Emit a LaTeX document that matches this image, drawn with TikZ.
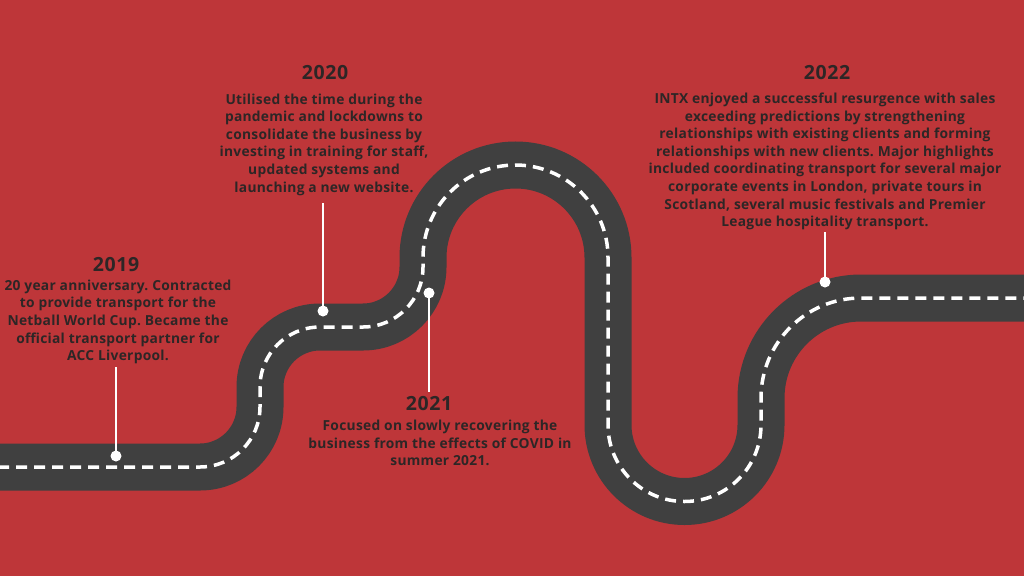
\documentclass[tikz,border=0pt]{standalone}
\usepackage{fontspec}
\setmainfont{Open Sans}
\newfontfamily\parafont{Open Sans}[LetterSpace=2.0]
\newfontfamily\yearfont{Open Sans}[LetterSpace=3.0]
\definecolor{bg}{HTML}{BE3639}
\definecolor{roadc}{HTML}{404040}
\definecolor{txt}{HTML}{2D2626}
\begin{document}
\frenchspacing
\begin{tikzpicture}[x=1pt,y=-1pt,
  year/.style={text=txt, font=\yearfont\fontsize{19.5pt}{21pt}\selectfont\bfseries, inner sep=0pt},
  para/.style={text=txt, align=center, font=\parafont\frenchspacing\fontsize{13.8pt}{17.6pt}\selectfont\bfseries, inner sep=0pt},
  dot/.style={circle, fill=white, minimum size=11pt, inner sep=0pt},
  pin/.style={draw=white, line width=2pt},
  road/.style={draw=roadc, line width=47pt, postaction={draw=white, line width=3.5pt, dash pattern=on 11pt off 7pt}}]
\useasboundingbox[fill=bg] (0,0) rectangle (1024,576);

\path[road] (-20,467) -- (200,467) arc[start angle=90, end angle=0, radius=60]
  -- (260,387) arc[start angle=180, end angle=270, radius=60]
  -- (363,327) arc[start angle=90, end angle=0, radius=60]
  -- (423,257.5) arc[start angle=180, end angle=360, radius=92.5]
  -- (608,425) arc[start angle=180, end angle=0, radius=76.5]
  -- (761,398) arc[start angle=180, end angle=270, radius=100]
  -- (1044,298);

% pins
\node[dot] (d19) at (116,456) {};
\coordinate (t19) at (116,367);
\draw[pin] (d19.center) -- (t19);
\node[dot] (d20) at (323,311) {};
\coordinate (t20) at (323,203);
\draw[pin] (d20.center) -- (t20);
\node[dot] (d21) at (429,293) {};
\coordinate (t21) at (429,392);
\draw[pin] (d21.center) -- (t21);
\node[dot] (d22) at (825,282) {};
\coordinate (t22) at (825,232);
\draw[pin] (d22.center) -- (t22);

% texts
\node[year] (y19) at (116,265) {2019};
\node[para] (p19) at (118,322) {20 year anniversary. Contracted\\to provide transport for the\\Netball World Cup. Became the\\official transport partner for\\ACC Liverpool.};
\node[year] (y20) at (325,73) {2020};
\node[para] (p20) at (324,144.5) {Utilised the time during the\\pandemic and lockdowns to\\consolidate the business by\\investing in training for staff,\\updated systems and\\launching a new website.};
\node[year] (y21) at (429,404) {2021};
\node[para] (p21) at (440,443) {Focused on slowly recovering the\\business from the effects of COVID in\\summer 2021.};
\node[year] (y22) at (827,73) {2022};
\node[para] (p22) at (825,161.5) {INTX enjoyed a successful resurgence with sales\\exceeding predictions by strengthening\\relationships with existing clients and forming\\relationships with new clients. Major highlights\\included coordinating transport for several major\\corporate events in London, private tours in\\Scotland, several music festivals and Premier\\League hospitality transport.};
\end{tikzpicture}
\end{document}
